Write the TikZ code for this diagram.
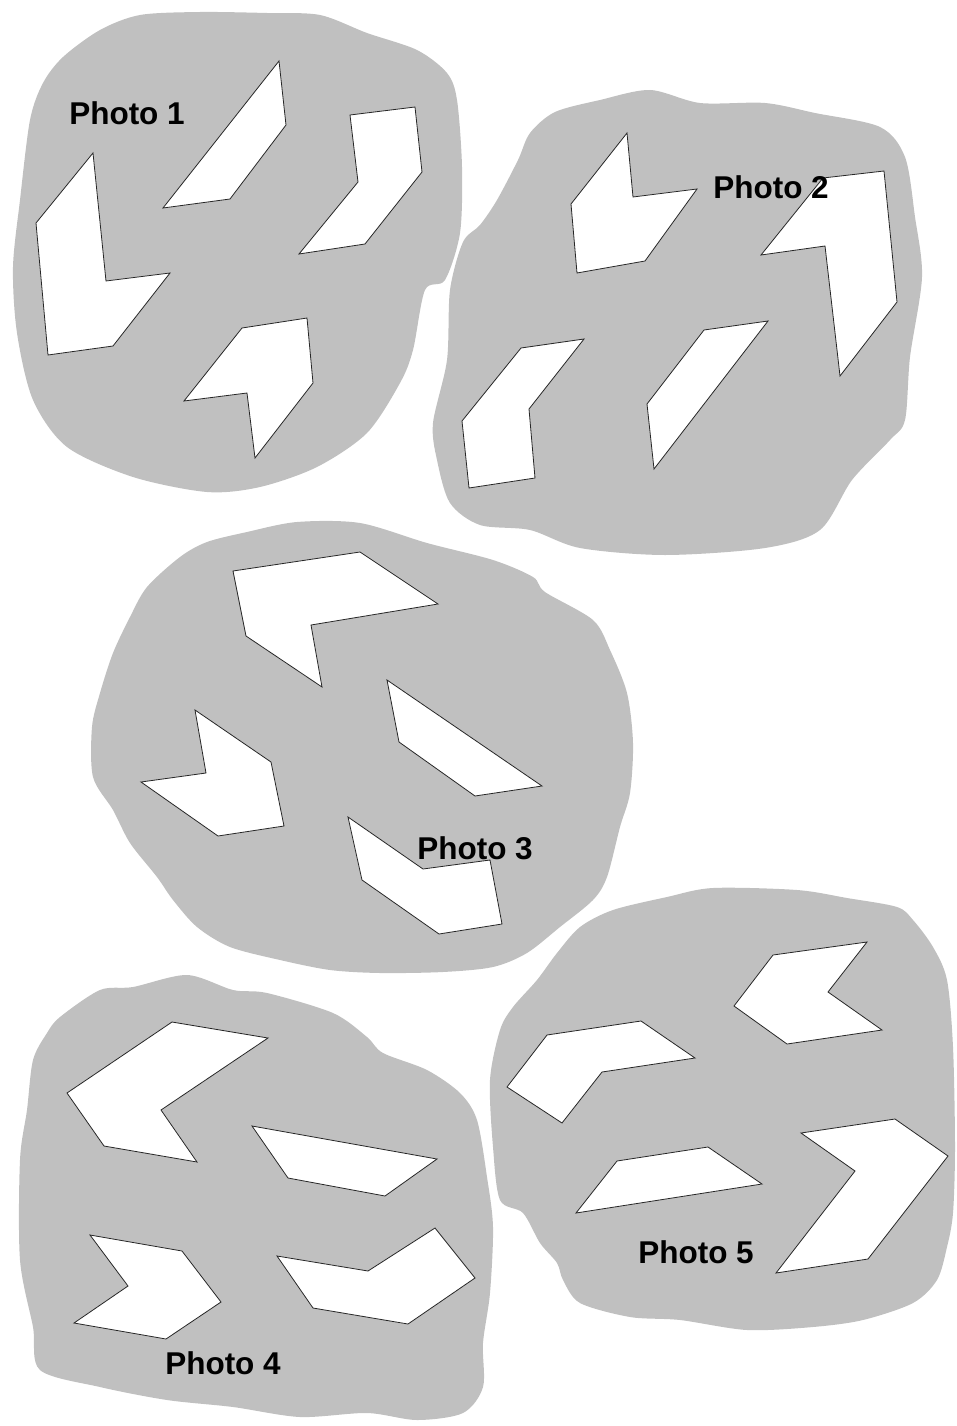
\documentclass[tikz,border=0pt]{standalone}
\usepackage{fontspec}
\setmainfont{Liberation Sans}
\definecolor{silver}{HTML}{C0C0C0}

\begin{document}
\begin{tikzpicture}[
  x=1pt,
  y=-1pt,
  blob/.style={
    fill=silver,
    draw=none
  },
  piece/.style={
    fill=white,
    draw=black!85,
    line width=.8pt,
    line join=miter
  },
  caption/.style={
    font=\fontsize{31.5}{37}\selectfont\bfseries,
    text=black,
    inner sep=0pt
  }
]

\useasboundingbox (0,0) rectangle (957,1426);

% the five grey photo patches
\fill[blob] plot[smooth cycle,tension=.5] coordinates {
  (43,83) (63,57) (100,30) (140,15) (200,12) (267,13) (320,15) (367,33)
  (417,50) (447,73) (457,100) (462,167) (460,233) (445,280) (425,290)
  (413,350) (400,383) (367,433) (317,467) (260,487) (207,492) (133,477)
  (67,447) (33,400) (17,333) (13,267) (20,200) (30,120)};

\fill[blob] plot[smooth cycle,tension=.5] coordinates {
  (530,133) (555,112) (600,100) (650,90) (700,103) (765,103) (815,113)
  (880,127) (905,157) (915,217) (922,277) (910,357) (905,420) (890,440)
  (852,480) (820,530) (765,548) (665,555) (580,548) (530,530) (480,525)
  (450,503) (437,460) (433,423) (447,360) (450,290) (463,242) (480,225)
  (497,200) (518,160)};

\fill[blob] plot[smooth cycle,tension=.5] coordinates {
  (180,557) (207,542) (247,532) (297,522) (360,523) (427,543) (493,560)
  (533,577) (545,592) (593,620) (610,650) (627,693) (633,743) (630,793)
  (620,827) (607,877) (593,900) (560,927) (527,953) (493,967) (443,972)
  (380,973) (330,970) (280,960) (230,947) (197,927) (173,900) (157,877)
  (130,843) (113,810) (93,777) (92,727) (100,693) (113,653) (130,617)
  (147,587)};

\fill[blob] plot[smooth cycle,tension=.5] coordinates {
  (60,1017) (100,990) (133,987) (187,975) (233,990) (267,993) (333,1013)
  (367,1037) (383,1053) (427,1070) (460,1093) (477,1120) (487,1177)
  (493,1227) (490,1293) (483,1343) (483,1387) (463,1413) (417,1420)
  (367,1413) (300,1417) (233,1407) (167,1400) (100,1387) (40,1370)
  (33,1327) (20,1260) (20,1160) (27,1110) (33,1060) (47,1033)};

\fill[blob] plot[smooth cycle,tension=.5] coordinates {
  (580,927) (613,910) (667,897) (713,888) (797,890) (847,898) (897,907)
  (913,920) (933,947) (947,980) (953,1047) (955,1147) (953,1213)
  (947,1247) (937,1280) (913,1303) (863,1320) (813,1327) (747,1330)
  (680,1320) (630,1317) (580,1303) (563,1280) (557,1263) (540,1243)
  (523,1213) (500,1200) (493,1147) (490,1080) (500,1030) (513,1007)
  (537,980) (557,953)};

% photo 1
\draw[piece] (279,61) -- (286,125) -- (230,199) -- (163,208) -- cycle;
\draw[piece] (350,115) -- (415,107) -- (422,172) -- (365,244)
  -- (299,254) -- (358,182) -- cycle;
\draw[piece] (93,153) -- (106,281) -- (170,273) -- (113,346)
  -- (48,355) -- (36,223) -- cycle;
\draw[piece] (242,328) -- (307,318) -- (313,383) -- (255,458)
  -- (247,393) -- (184,401) -- cycle;

% photo 2
\draw[piece] (627,133) -- (633,197) -- (697,189) -- (645,261)
  -- (577,273) -- (571,204) -- cycle;
\draw[piece] (884,171) -- (897,302) -- (840,376) -- (825,246)
  -- (761,255) -- (823,178) -- cycle;
\draw[piece] (521,348) -- (584,339) -- (529,409) -- (535,478)
  -- (469,488) -- (462,421) -- cycle;
\draw[piece] (704,330) -- (768,321) -- (654,469) -- (647,404) -- cycle;

% photo 3
\draw[piece] (233,571) -- (360,552) -- (438,604) -- (311,625)
  -- (322,687) -- (246,636) -- cycle;
\draw[piece] (195,710) -- (271,762) -- (284,826) -- (218,836)
  -- (141,782) -- (206,773) -- cycle;
\draw[piece] (387,680) -- (542,786) -- (475,796) -- (399,742) -- cycle;
\draw[piece] (348,817) -- (423,869) -- (490,860) -- (502,924)
  -- (439,934) -- (362,880) -- cycle;

% photo 4
\draw[piece] (172,1022) -- (268,1038) -- (161,1110) -- (197,1162)
  -- (104,1146) -- (67,1093) -- cycle;
\draw[piece] (252,1126) -- (437,1159) -- (385,1196) -- (288,1178) -- cycle;
\draw[piece] (90,1235) -- (182,1251) -- (221,1302) -- (166,1339)
  -- (74,1323) -- (128,1286) -- cycle;
\draw[piece] (277,1256) -- (368,1271) -- (435,1228) -- (475,1278)
  -- (408,1324) -- (313,1308) -- cycle;

% photo 5
\draw[piece] (773,955) -- (867,942) -- (828,992) -- (882,1030)
  -- (787,1044) -- (734,1006) -- cycle;
\draw[piece] (547,1035) -- (641,1021) -- (695,1058) -- (602,1072)
  -- (562,1123) -- (507,1087) -- cycle;
\draw[piece] (617,1161) -- (708,1147) -- (762,1184) -- (576,1213) -- cycle;
\draw[piece] (801,1133) -- (895,1119) -- (948,1156) -- (868,1259)
  -- (776,1273) -- (855,1171) -- cycle;

\node[caption] (photo1) at (127,113) {Photo 1};
\node[caption] (photo2) at (771,187) {Photo 2};
\node[caption] (photo3) at (475,848) {Photo 3};
\node[caption] (photo4) at (223,1363) {Photo 4};
\node[caption] (photo5) at (696,1252) {Photo 5};

\end{tikzpicture}
\end{document}
